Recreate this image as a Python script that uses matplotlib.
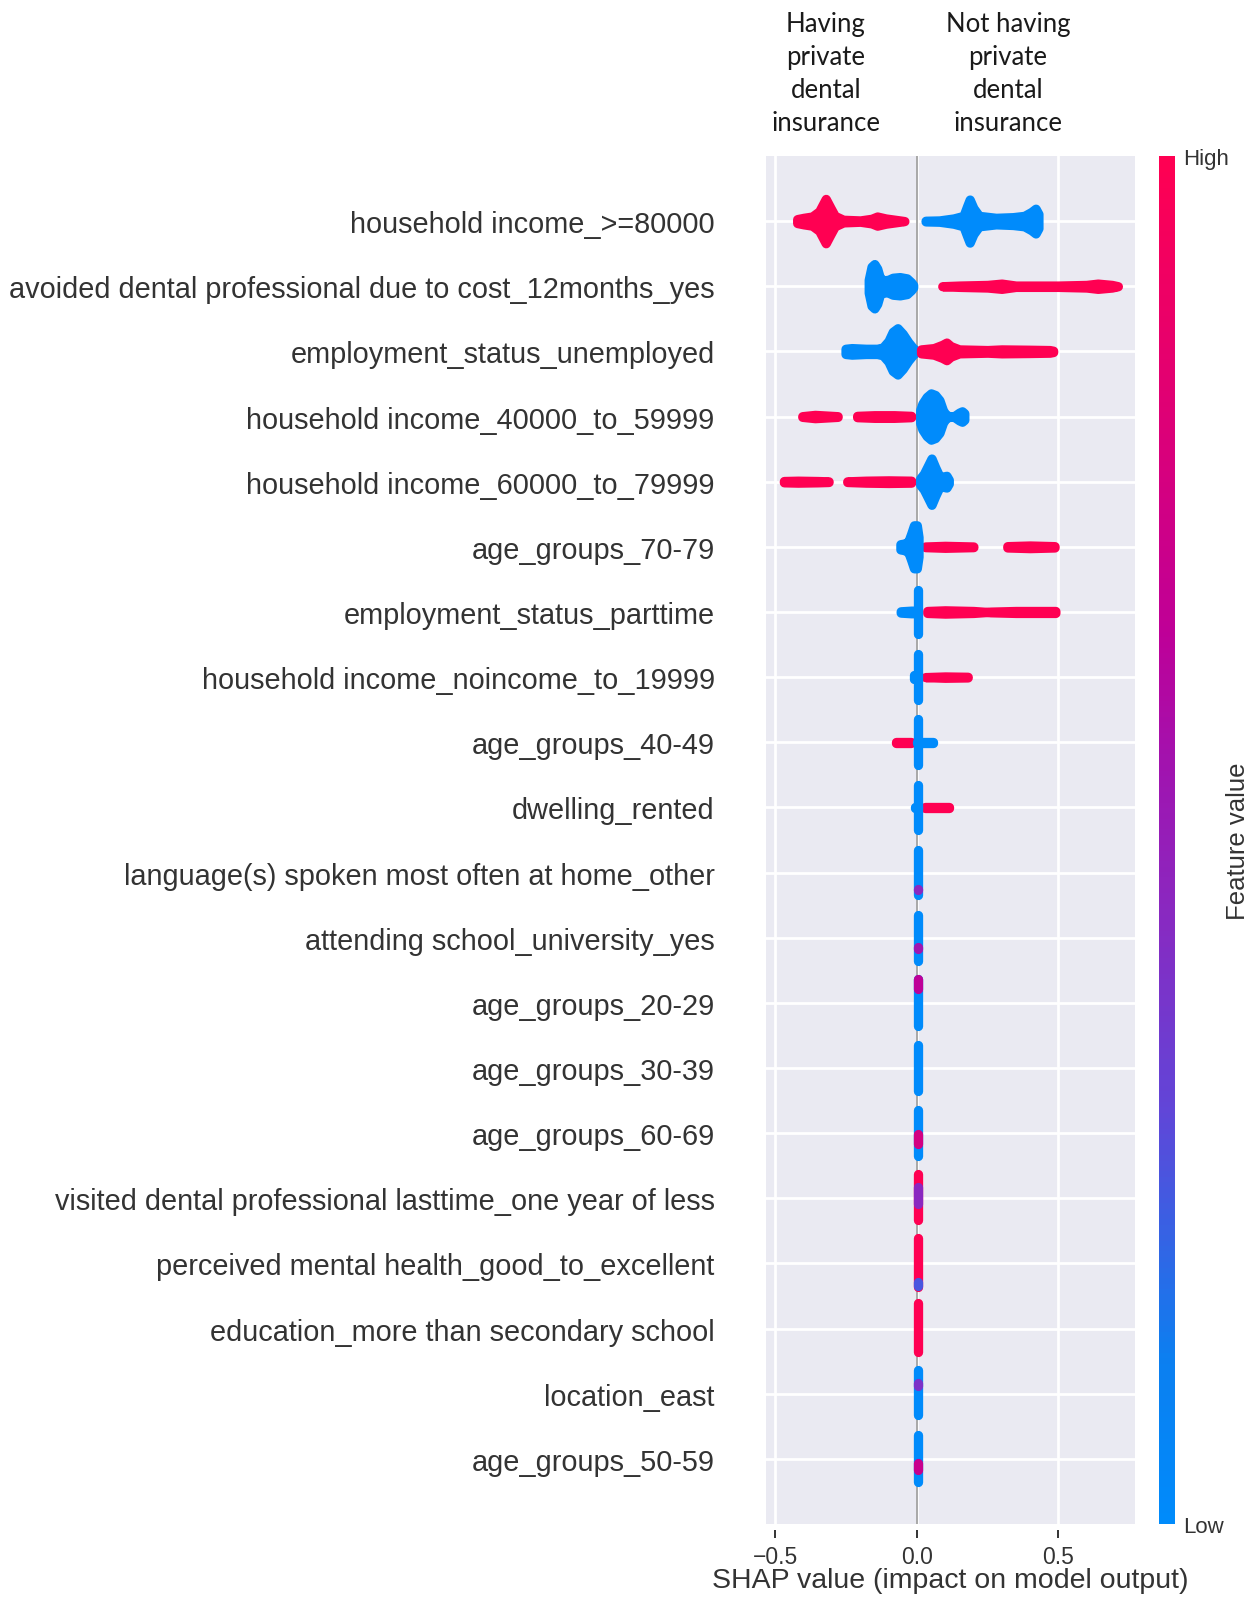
import numpy as np
import matplotlib
matplotlib.use("Agg")
import matplotlib.pyplot as plt
from matplotlib.colors import LinearSegmentedColormap
from matplotlib.cm import ScalarMappable
from matplotlib.transforms import blended_transform_factory

# features, top to bottom
features = [
    "household income_>=80000",
    "avoided dental professional due to cost_12months_yes",
    "employment_status_unemployed",
    "household income_40000_to_59999",
    "household income_60000_to_79999",
    "age_groups_70-79",
    "employment_status_parttime",
    "household income_noincome_to_19999",
    "age_groups_40-49",
    "dwelling_rented",
    "language(s) spoken most often at home_other",
    "attending school_university_yes",
    "age_groups_20-29",
    "age_groups_30-39",
    "age_groups_60-69",
    "visited dental professional lasttime_one year of less",
    "perceived mental health_good_to_excellent",
    "education_more than secondary school",
    "location_east",
    "age_groups_50-59",
]

# horizontal swarms: feature row, feature value (0 low .. 1 high),
# SHAP values along the swarm and half spread of the swarm (in rows)
blob_row = [0, 0, 1, 1, 2, 2, 3, 3, 3, 4, 4, 4, 5, 5, 5,
            6, 6, 7, 7, 8, 8, 9, 9, 10, 10]
blob_value = [1.0, 0.0, 0.0, 1.0, 0.0, 1.0, 1.0, 1.0, 0.0, 1.0, 1.0, 0.0,
              1.0, 1.0, 0.0, 1.0, 0.0, 1.0, 0.0, 1.0, 0.0, 1.0, 0.0, 1.0, 0.3]
blob_x = [
    [-0.423, -0.40, -0.37, -0.345, -0.322, -0.305, -0.29, -0.26, -0.20, -0.16, -0.14, -0.11, -0.06, -0.044],
    [0.031, 0.08, 0.13, 0.165, 0.178, 0.187, 0.20, 0.22, 0.28, 0.34, 0.38, 0.405, 0.42, 0.43],
    [-0.17, -0.16, -0.15, -0.14, -0.13, -0.115, -0.10, -0.085, -0.06, -0.035, -0.02, -0.013],
    [0.09, 0.15, 0.25, 0.30, 0.35, 0.50, 0.60, 0.64, 0.69, 0.711],
    [-0.252, -0.23, -0.18, -0.14, -0.12, -0.10, -0.085, -0.068, -0.05, -0.03, -0.015, -0.005],
    [0.015, 0.06, 0.09, 0.105, 0.12, 0.15, 0.25, 0.30, 0.40, 0.47, 0.482],
    [-0.405, -0.36, -0.30, -0.28],
    [-0.211, -0.15, -0.08, -0.02],
    [0.012, 0.02, 0.035, 0.05, 0.065, 0.08, 0.092, 0.10, 0.115, 0.13, 0.15, 0.16, 0.168],
    [-0.47, -0.42, -0.35, -0.312],
    [-0.246, -0.18, -0.10, -0.02],
    [0.012, 0.025, 0.04, 0.052, 0.065, 0.08, 0.095, 0.105, 0.113],
    [0.03, 0.10, 0.20],
    [0.32, 0.40, 0.487],
    [-0.058, -0.045, -0.03, -0.02, -0.01, 0.0, 0.006],
    [0.037, 0.10, 0.20, 0.25, 0.26, 0.35, 0.45, 0.49],
    [-0.057, -0.02, 0.0],
    [0.03, 0.10, 0.18],
    [-0.011, 0.0],
    [-0.073, -0.02],
    [0.0, 0.056],
    [0.03, 0.115],
    [-0.005, 0.003],
    [0.092, 0.094],
    [0.018, 0.02],
]
blob_spread = [
    [0.03, 0.05, 0.07, 0.15, 0.34, 0.2, 0.08, 0.02, 0.01, 0.035, 0.07, 0.04, 0.01, 0.0],
    [0.005, 0.01, 0.04, 0.08, 0.23, 0.33, 0.2, 0.08, 0.05, 0.06, 0.08, 0.14, 0.19, 0.11],
    [0.1, 0.3, 0.34, 0.27, 0.12, 0.09, 0.1, 0.13, 0.14, 0.12, 0.06, 0.02],
    [0.0, 0.01, 0.02, 0.04, 0.01, 0.01, 0.02, 0.04, 0.02, 0.0],
    [0.04, 0.05, 0.04, 0.04, 0.06, 0.16, 0.3, 0.355, 0.27, 0.14, 0.06, 0.02],
    [0.03, 0.05, 0.1, 0.135, 0.08, 0.03, 0.02, 0.03, 0.025, 0.02, 0.01],
    [0.005, 0.025, 0.01, 0.005],
    [0.01, 0.02, 0.02, 0.01],
    [0.1, 0.2, 0.3, 0.355, 0.33, 0.25, 0.1, 0.04, 0.0, 0.0, 0.06, 0.08, 0.05],
    [0.01, 0.015, 0.01, 0.005],
    [0.005, 0.015, 0.02, 0.015],
    [0.05, 0.12, 0.25, 0.355, 0.22, 0.08, 0.08, 0.09, 0.03],
    [0.005, 0.015, 0.005],
    [0.01, 0.02, 0.01],
    [0.04, 0.05, 0.08, 0.2, 0.33, 0.33, 0.15],
    [0.015, 0.025, 0.015, 0.0, 0.005, 0.015, 0.015, 0.015],
    [0.01, 0.02, 0.02],
    [0.0, 0.01, 0.005],
    [0.03, 0.03],
    [0.005, 0.005],
    [0.005, 0.005],
    [0.005, 0.005],
    [0.01, 0.01],
    [0.0, 0.0],
    [0.0, 0.0],
]

# vertical stacks of points near zero: row, SHAP value, low/high offset (rows), feature value
col_row = [6, 7, 8, 9, 10, 10, 11, 11, 12, 12, 13, 14, 14, 15, 15, 16, 16, 17, 18, 18, 19, 19]
col_x = [0.003] * 22
col_lo = [-0.34, -0.35, -0.35, -0.35, -0.35, -0.27, -0.35, -0.18, -0.36, 0.22, -0.35,
          -0.35, -0.17, -0.34, -0.08, -0.365, -0.34, -0.36, -0.33, 0.12, -0.35, -0.17]
col_hi = [0.34, 0.35, 0.35, 0.35, 0.34, -0.25, 0.35, -0.14, 0.36, 0.36, 0.35,
          0.35, -0.02, 0.38, 0.17, 0.385, -0.28, 0.39, 0.37, 0.17, 0.37, -0.065]
col_value = [0.0, 0.0, 0.0, 0.0, 0.0, 0.45, 0.0, 0.55, 0.0, 0.65, 0.0,
             0.0, 0.75, 1.0, 0.45, 1.0, 0.25, 1.0, 0.0, 0.4, 0.0, 0.7]

xticks = [-0.5, 0.0, 0.5]
xtick_labels = ["\u22120.5", "0.0", "0.5"]

cmap = LinearSegmentedColormap.from_list("red_blue", [
    (0.0, "#008bfb"), (0.12, "#0c7ff0"), (0.3, "#6046d8"), (0.45, "#8a28c0"),
    (0.55, "#a014b0"), (0.65, "#be0098"), (0.8, "#dc0078"), (1.0, "#ff0052")])

n = len(features)
text_color = "#333333"
dot_lw = 6.7

fig = plt.figure(figsize=(12.6, 16.08), dpi=100)
ax = fig.add_axes([0.608, 0.0516, 0.2929, 0.8508])
ax.set_facecolor("#EAEAF2")
for s in ax.spines.values():
    s.set_visible(False)
ax.spines["bottom"].set_position(("outward", 4))
ax.set_axisbelow(True)
ax.grid(True, color="white", linewidth=2.0)

ax.axvline(0, color="#999999", linewidth=1.2, zorder=1)

for r, c, xs, ss in zip(blob_row, blob_value, blob_x, blob_spread):
    y = n - 1 - r
    xs = np.array(xs)
    ss = np.array(ss)
    col = cmap(c)
    ax.fill_between(xs, y - ss, y + ss, facecolor=col, edgecolor=col,
                    linewidth=dot_lw, joinstyle="round", zorder=3)

ys = np.array([n - 1 - r for r in col_row])
ax.vlines(col_x, ys + np.array(col_lo), ys + np.array(col_hi),
          colors=[cmap(v) for v in col_value], linewidth=dot_lw,
          capstyle="round", zorder=4)

ax.set_xlim(-0.533, 0.772)
ax.set_ylim(-1, n)
ax.set_yticks(range(n))
ax.set_yticklabels(features[::-1], fontsize=20.8, color=text_color,
                   family="Liberation Sans")
ax.tick_params(axis="y", length=0, pad=37)
ax.set_xticks(xticks)
ax.set_xticklabels(xtick_labels, fontsize=16.5, color=text_color,
                   family="Liberation Sans")
ax.tick_params(axis="x", length=6, width=1.4, color=text_color, pad=5)
ax.set_xlabel("SHAP value (impact on model output)", fontsize=20.5,
              color=text_color, family="Liberation Sans", labelpad=-0.5)

# headers above the plot
tr = blended_transform_factory(ax.transData, fig.transFigure)
ax.text(-0.322, 0.954, "Having\nprivate\ndental\ninsurance", transform=tr,
        ha="center", va="center", fontsize=18.5, family="Lato",
        linespacing=1.41, color="#1a1a1a")
ax.text(0.322, 0.954, "Not having\nprivate\ndental\ninsurance", transform=tr,
        ha="center", va="center", fontsize=18.5, family="Lato",
        linespacing=1.41, color="#1a1a1a")

# colour bar
cax = fig.add_axes([0.9198, 0.0516, 0.0127, 0.8508])
sm = ScalarMappable(cmap=cmap)
sm.set_array([0, 1])
cb = fig.colorbar(sm, cax=cax, ticks=[0, 1])
cb.outline.set_visible(False)
cb.set_ticklabels(["Low", "High"])
cax.tick_params(length=0, pad=6, labelsize=16, labelcolor=text_color)
for t in cax.get_yticklabels():
    t.set_family("Liberation Sans")
cb.set_label("Feature value", fontsize=18.5, color=text_color,
             family="Liberation Sans")
cax.yaxis.set_label_coords(4.2, 0.5)

fig.savefig("out.png", dpi=100)
